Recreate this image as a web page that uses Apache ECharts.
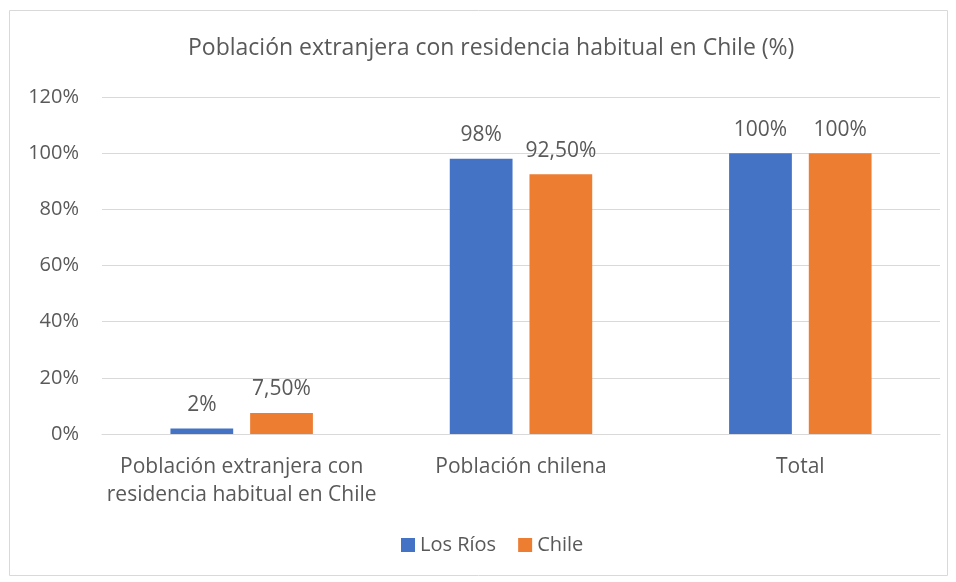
<!DOCTYPE html>
<html>
<head>
<meta charset="utf-8">
<script src="https://cdn.jsdelivr.net/npm/echarts@6/dist/echarts.min.js"></script>
<style>
  html, body { margin: 0; padding: 0; background: #fff; }
  #chart { width: 956px; height: 582px; }
</style>
</head>
<body>
<div id="chart"></div>
<script>
// datos
var categorias = ['Población extranjera con\nresidencia habitual en Chile', 'Población chilena', 'Total'];
var losRios = [2, 98, 100];
var chile = [7.5, 92.5, 100];
var etiquetasLosRios = ['2%', '98%', '100%'];
var etiquetasChile = ['7,50%', '92,50%', '100%'];
var ticks = [0, 20, 40, 60, 80, 100, 120];

var fuente = 'Open Sans';
var gris = '#595959';

var chart = echarts.init(document.getElementById('chart'));
chart.setOption({
    animation: false,
    textStyle: { fontFamily: fuente },
    graphic: [{
        type: 'rect',
        shape: { x: 9.5, y: 10.5, width: 938, height: 565 },
        style: { fill: 'none', stroke: '#d9d9d9', lineWidth: 1 }
    }],
    title: {
        text: 'Población extranjera con residencia habitual en Chile (%)',
        left: 183,
        top: 32,
        textStyle: { fontSize: 23, fontWeight: 'normal', color: gris, fontFamily: fuente }
    },
    legend: {
        bottom: 22,
        left: 396,
        itemWidth: 14,
        itemHeight: 14,
        itemGap: 22,
        icon: 'rect',
        textStyle: { fontSize: 20, color: gris, fontFamily: fuente },
        data: ['Los Ríos', 'Chile']
    },
    grid: { left: 102, right: 16, top: 97, bottom: 148 },
    xAxis: {
        type: 'category',
        data: categorias,
        axisTick: { show: false },
        axisLine: { lineStyle: { color: '#d9d9d9' } },
        axisLabel: { interval: 0, fontSize: 21, color: gris, margin: 19, lineHeight: 28, fontFamily: fuente }
    },
    yAxis: {
        type: 'value',
        min: ticks[0],
        max: ticks[ticks.length - 1],
        interval: 20,
        axisLine: { show: false },
        axisTick: { show: false },
        splitLine: { lineStyle: { color: '#d9d9d9' } },
        axisLabel: { fontSize: 20, color: gris, margin: 23, formatter: '{value}%', fontFamily: fuente }
    },
    series: [{
        name: 'Los Ríos',
        type: 'bar',
        data: losRios,
        itemStyle: { color: '#4472c4' },
        barGap: '27%',
        barCategoryGap: '49%',
        label: {
            show: true, position: 'top', distance: 13, fontSize: 21, color: gris, fontFamily: fuente,
            formatter: function (p) { return etiquetasLosRios[p.dataIndex]; }
        }
    }, {
        name: 'Chile',
        type: 'bar',
        data: chile,
        itemStyle: { color: '#ed7d31' },
        label: {
            show: true, position: 'top', distance: 13, fontSize: 21, color: gris, fontFamily: fuente,
            formatter: function (p) { return etiquetasChile[p.dataIndex]; }
        }
    }]
});
</script>
</body>
</html>
